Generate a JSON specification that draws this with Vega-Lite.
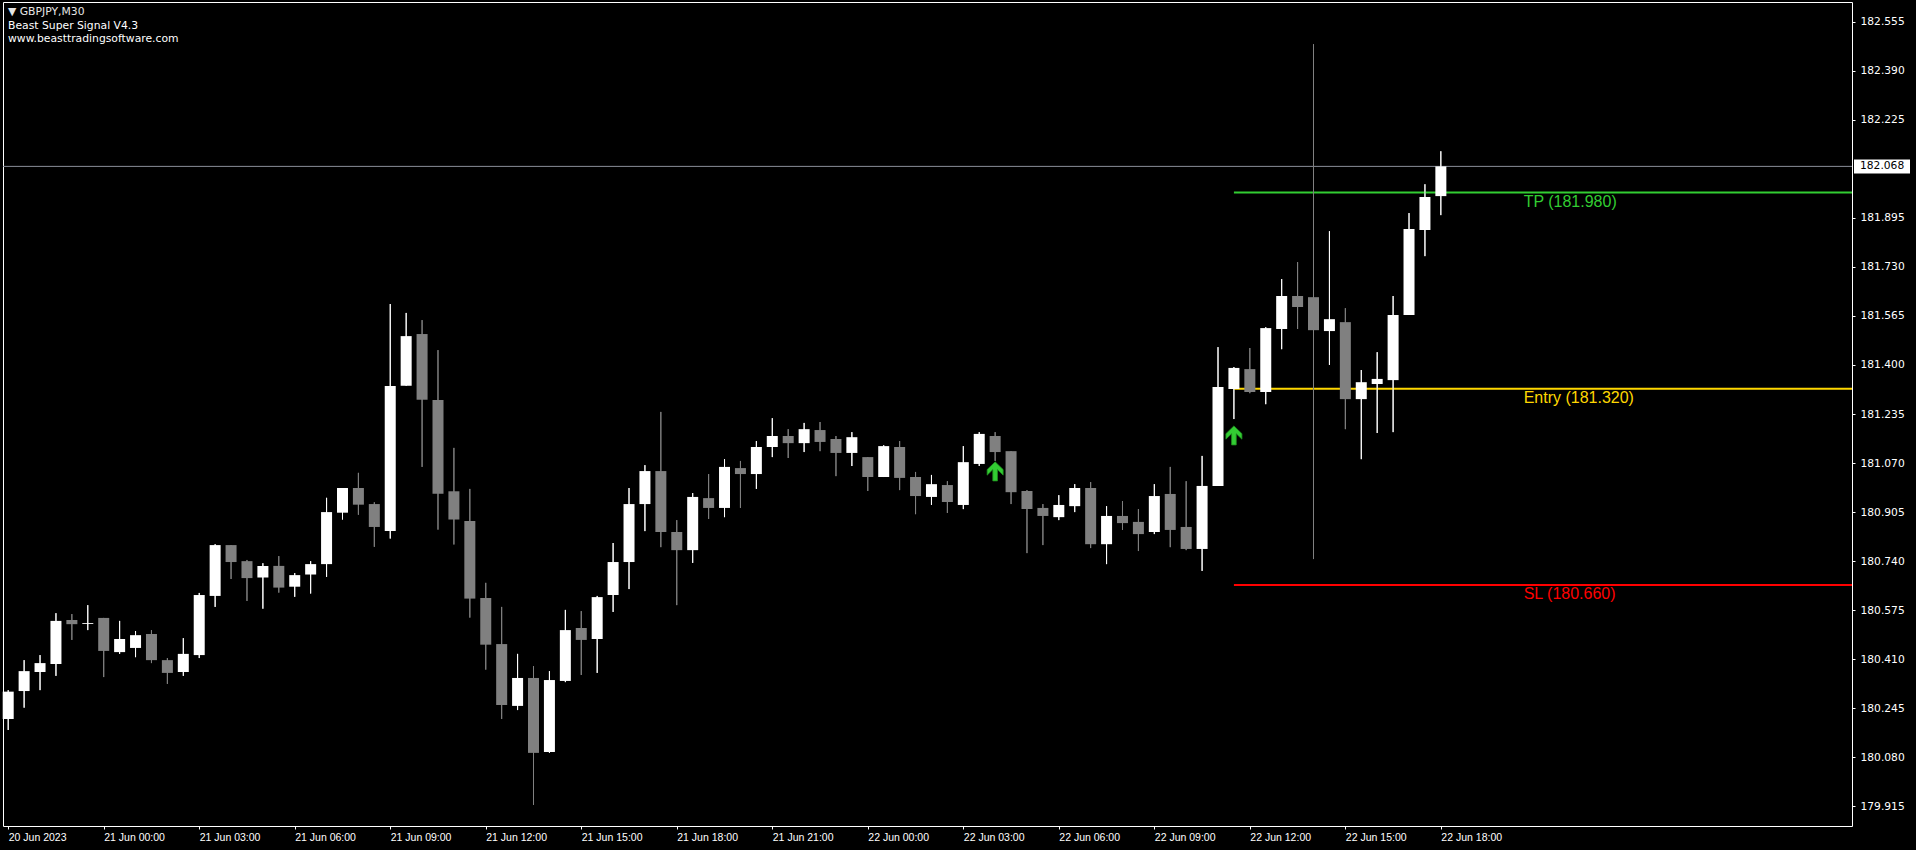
{
  "$schema": "https://vega.github.io/schema/vega-lite/v6.json",
  "width": 1849,
  "height": 824,
  "autosize": {"type": "none"},
  "padding": {"left": 3, "top": 2, "right": 64, "bottom": 24},
  "background": "#000000",
  "config": {
    "view": {"stroke": "#ffffff", "strokeWidth": 1},
    "axis": {"grid": false, "domain": false, "title": null, "tickColor": "#ffffff", "labelColor": "#ffffff"}
  },
  "title": {
    "text": "▼  GBPJPY,M30",
    "subtitle": ["Beast Super Signal V4.3", "www.beasttradingsoftware.com"],
    "anchor": "start",
    "frame": "group",
    "orient": "top",
    "offset": -41.5,
    "dx": 5,
    "font": "DejaVu Sans",
    "fontSize": 10.8,
    "fontWeight": "normal",
    "color": "#e6e6e6",
    "subtitleFont": "DejaVu Sans",
    "subtitleFontSize": 10.8,
    "subtitleColor": "#ffffff",
    "subtitlePadding": 3.5,
    "lineHeight": 12.5,
    "subtitleLineHeight": 12.5
  },
  "datasets": {
    "candles": [
      {"t": "2023-06-20T21:00Z", "o": 180.209, "h": 180.306, "l": 180.172, "c": 180.301},
      {"t": "2023-06-20T21:30Z", "o": 180.303, "h": 180.407, "l": 180.247, "c": 180.370},
      {"t": "2023-06-20T22:00Z", "o": 180.367, "h": 180.424, "l": 180.306, "c": 180.397},
      {"t": "2023-06-20T22:30Z", "o": 180.394, "h": 180.565, "l": 180.354, "c": 180.539},
      {"t": "2023-06-20T23:00Z", "o": 180.542, "h": 180.562, "l": 180.475, "c": 180.528},
      {"t": "2023-06-20T23:30Z", "o": 180.529, "h": 180.592, "l": 180.508, "c": 180.532},
      {"t": "2023-06-21T00:00Z", "o": 180.549, "h": 180.549, "l": 180.350, "c": 180.438},
      {"t": "2023-06-21T00:30Z", "o": 180.434, "h": 180.539, "l": 180.428, "c": 180.478},
      {"t": "2023-06-21T01:00Z", "o": 180.448, "h": 180.505, "l": 180.417, "c": 180.491},
      {"t": "2023-06-21T01:30Z", "o": 180.495, "h": 180.508, "l": 180.397, "c": 180.407},
      {"t": "2023-06-21T02:00Z", "o": 180.407, "h": 180.414, "l": 180.327, "c": 180.364},
      {"t": "2023-06-21T02:30Z", "o": 180.367, "h": 180.481, "l": 180.354, "c": 180.428},
      {"t": "2023-06-21T03:00Z", "o": 180.424, "h": 180.633, "l": 180.414, "c": 180.626},
      {"t": "2023-06-21T03:30Z", "o": 180.623, "h": 180.797, "l": 180.586, "c": 180.794},
      {"t": "2023-06-21T04:00Z", "o": 180.794, "h": 180.794, "l": 180.680, "c": 180.737},
      {"t": "2023-06-21T04:30Z", "o": 180.740, "h": 180.744, "l": 180.606, "c": 180.683},
      {"t": "2023-06-21T05:00Z", "o": 180.685, "h": 180.733, "l": 180.580, "c": 180.724},
      {"t": "2023-06-21T05:30Z", "o": 180.724, "h": 180.757, "l": 180.634, "c": 180.651},
      {"t": "2023-06-21T06:00Z", "o": 180.654, "h": 180.700, "l": 180.620, "c": 180.693},
      {"t": "2023-06-21T06:30Z", "o": 180.695, "h": 180.740, "l": 180.631, "c": 180.730},
      {"t": "2023-06-21T07:00Z", "o": 180.730, "h": 180.953, "l": 180.687, "c": 180.905},
      {"t": "2023-06-21T07:30Z", "o": 180.903, "h": 180.986, "l": 180.880, "c": 180.986},
      {"t": "2023-06-21T08:00Z", "o": 180.986, "h": 181.037, "l": 180.896, "c": 180.930},
      {"t": "2023-06-21T08:30Z", "o": 180.932, "h": 180.938, "l": 180.788, "c": 180.855},
      {"t": "2023-06-21T09:00Z", "o": 180.841, "h": 181.605, "l": 180.816, "c": 181.329},
      {"t": "2023-06-21T09:30Z", "o": 181.330, "h": 181.575, "l": 181.330, "c": 181.497},
      {"t": "2023-06-21T10:00Z", "o": 181.504, "h": 181.551, "l": 181.057, "c": 181.283},
      {"t": "2023-06-21T10:30Z", "o": 181.282, "h": 181.450, "l": 180.846, "c": 180.967},
      {"t": "2023-06-21T11:00Z", "o": 180.975, "h": 181.121, "l": 180.796, "c": 180.880},
      {"t": "2023-06-21T11:30Z", "o": 180.875, "h": 180.983, "l": 180.550, "c": 180.614},
      {"t": "2023-06-21T12:00Z", "o": 180.616, "h": 180.667, "l": 180.375, "c": 180.459},
      {"t": "2023-06-21T12:30Z", "o": 180.461, "h": 180.586, "l": 180.209, "c": 180.256},
      {"t": "2023-06-21T13:00Z", "o": 180.253, "h": 180.428, "l": 180.239, "c": 180.347},
      {"t": "2023-06-21T13:30Z", "o": 180.347, "h": 180.387, "l": 179.920, "c": 180.095},
      {"t": "2023-06-21T14:00Z", "o": 180.098, "h": 180.370, "l": 180.095, "c": 180.340},
      {"t": "2023-06-21T14:30Z", "o": 180.337, "h": 180.576, "l": 180.333, "c": 180.508},
      {"t": "2023-06-21T15:00Z", "o": 180.515, "h": 180.572, "l": 180.357, "c": 180.475},
      {"t": "2023-06-21T15:30Z", "o": 180.478, "h": 180.623, "l": 180.364, "c": 180.619},
      {"t": "2023-06-21T16:00Z", "o": 180.626, "h": 180.801, "l": 180.569, "c": 180.737},
      {"t": "2023-06-21T16:30Z", "o": 180.737, "h": 180.986, "l": 180.646, "c": 180.932},
      {"t": "2023-06-21T17:00Z", "o": 180.932, "h": 181.063, "l": 180.841, "c": 181.043},
      {"t": "2023-06-21T17:30Z", "o": 181.043, "h": 181.242, "l": 180.787, "c": 180.838},
      {"t": "2023-06-21T18:00Z", "o": 180.838, "h": 180.878, "l": 180.592, "c": 180.777},
      {"t": "2023-06-21T18:30Z", "o": 180.777, "h": 180.969, "l": 180.734, "c": 180.956},
      {"t": "2023-06-21T19:00Z", "o": 180.952, "h": 181.033, "l": 180.882, "c": 180.919},
      {"t": "2023-06-21T19:30Z", "o": 180.919, "h": 181.083, "l": 180.888, "c": 181.057},
      {"t": "2023-06-21T20:00Z", "o": 181.053, "h": 181.077, "l": 180.919, "c": 181.033},
      {"t": "2023-06-21T20:30Z", "o": 181.033, "h": 181.144, "l": 180.983, "c": 181.124},
      {"t": "2023-06-21T21:00Z", "o": 181.124, "h": 181.221, "l": 181.090, "c": 181.161},
      {"t": "2023-06-21T21:30Z", "o": 181.161, "h": 181.184, "l": 181.087, "c": 181.137},
      {"t": "2023-06-21T22:00Z", "o": 181.137, "h": 181.205, "l": 181.107, "c": 181.184},
      {"t": "2023-06-21T22:30Z", "o": 181.181, "h": 181.208, "l": 181.110, "c": 181.141},
      {"t": "2023-06-21T23:00Z", "o": 181.151, "h": 181.161, "l": 181.026, "c": 181.104},
      {"t": "2023-06-21T23:30Z", "o": 181.104, "h": 181.174, "l": 181.060, "c": 181.157},
      {"t": "2023-06-22T00:00Z", "o": 181.090, "h": 181.090, "l": 180.976, "c": 181.023},
      {"t": "2023-06-22T00:30Z", "o": 181.023, "h": 181.130, "l": 181.023, "c": 181.127},
      {"t": "2023-06-22T01:00Z", "o": 181.124, "h": 181.144, "l": 180.979, "c": 181.020},
      {"t": "2023-06-22T01:30Z", "o": 181.023, "h": 181.040, "l": 180.898, "c": 180.959},
      {"t": "2023-06-22T02:00Z", "o": 180.956, "h": 181.030, "l": 180.929, "c": 180.999},
      {"t": "2023-06-22T02:30Z", "o": 180.996, "h": 181.009, "l": 180.902, "c": 180.939},
      {"t": "2023-06-22T03:00Z", "o": 180.929, "h": 181.127, "l": 180.915, "c": 181.073},
      {"t": "2023-06-22T03:30Z", "o": 181.067, "h": 181.174, "l": 181.060, "c": 181.168},
      {"t": "2023-06-22T04:00Z", "o": 181.161, "h": 181.174, "l": 181.077, "c": 181.107},
      {"t": "2023-06-22T04:30Z", "o": 181.110, "h": 181.110, "l": 180.932, "c": 180.972},
      {"t": "2023-06-22T05:00Z", "o": 180.976, "h": 180.979, "l": 180.767, "c": 180.915},
      {"t": "2023-06-22T05:30Z", "o": 180.919, "h": 180.932, "l": 180.794, "c": 180.892},
      {"t": "2023-06-22T06:00Z", "o": 180.888, "h": 180.962, "l": 180.878, "c": 180.929},
      {"t": "2023-06-22T06:30Z", "o": 180.925, "h": 180.999, "l": 180.905, "c": 180.986},
      {"t": "2023-06-22T07:00Z", "o": 180.986, "h": 181.006, "l": 180.784, "c": 180.797},
      {"t": "2023-06-22T07:30Z", "o": 180.797, "h": 180.925, "l": 180.730, "c": 180.892},
      {"t": "2023-06-22T08:00Z", "o": 180.892, "h": 180.942, "l": 180.845, "c": 180.868},
      {"t": "2023-06-22T08:30Z", "o": 180.872, "h": 180.915, "l": 180.774, "c": 180.831},
      {"t": "2023-06-22T09:00Z", "o": 180.838, "h": 180.999, "l": 180.831, "c": 180.959},
      {"t": "2023-06-22T09:30Z", "o": 180.966, "h": 181.057, "l": 180.787, "c": 180.845},
      {"t": "2023-06-22T10:00Z", "o": 180.855, "h": 181.009, "l": 180.777, "c": 180.781},
      {"t": "2023-06-22T10:30Z", "o": 180.781, "h": 181.094, "l": 180.707, "c": 180.993},
      {"t": "2023-06-22T11:00Z", "o": 180.993, "h": 181.460, "l": 180.993, "c": 181.326},
      {"t": "2023-06-22T11:30Z", "o": 181.319, "h": 181.393, "l": 181.218, "c": 181.390},
      {"t": "2023-06-22T12:00Z", "o": 181.386, "h": 181.457, "l": 181.305, "c": 181.309},
      {"t": "2023-06-22T12:30Z", "o": 181.309, "h": 181.527, "l": 181.268, "c": 181.524},
      {"t": "2023-06-22T13:00Z", "o": 181.521, "h": 181.689, "l": 181.453, "c": 181.632},
      {"t": "2023-06-22T13:30Z", "o": 181.632, "h": 181.746, "l": 181.521, "c": 181.595},
      {"t": "2023-06-22T14:00Z", "o": 181.628, "h": 182.479, "l": 180.747, "c": 181.517},
      {"t": "2023-06-22T14:30Z", "o": 181.514, "h": 181.850, "l": 181.400, "c": 181.554},
      {"t": "2023-06-22T15:00Z", "o": 181.544, "h": 181.591, "l": 181.184, "c": 181.285},
      {"t": "2023-06-22T15:30Z", "o": 181.285, "h": 181.383, "l": 181.083, "c": 181.342},
      {"t": "2023-06-22T16:00Z", "o": 181.336, "h": 181.443, "l": 181.171, "c": 181.353},
      {"t": "2023-06-22T16:30Z", "o": 181.349, "h": 181.632, "l": 181.174, "c": 181.568},
      {"t": "2023-06-22T17:00Z", "o": 181.568, "h": 181.911, "l": 181.568, "c": 181.857},
      {"t": "2023-06-22T17:30Z", "o": 181.854, "h": 182.008, "l": 181.766, "c": 181.965},
      {"t": "2023-06-22T18:00Z", "o": 181.968, "h": 182.119, "l": 181.904, "c": 182.068}
    ],
    "levels": [
      {"level": "TP", "price": 181.98, "start": "2023-06-22T11:30Z", "end": "2023-06-23T12:00Z", "lt": "2023-06-22T20:36Z", "label": "TP (181.980)"},
      {"level": "Entry", "price": 181.32, "start": "2023-06-22T11:30Z", "end": "2023-06-23T12:00Z", "lt": "2023-06-22T20:36Z", "label": "Entry (181.320)"},
      {"level": "SL", "price": 180.66, "start": "2023-06-22T11:30Z", "end": "2023-06-23T12:00Z", "lt": "2023-06-22T20:36Z", "label": "SL (180.660)"}
    ],
    "signals": [
      {"t": "2023-06-22T04:00Z", "price": 181.042},
      {"t": "2023-06-22T11:30Z", "price": 181.163}
    ],
    "last": [
      {"t": "2023-06-22T18:00Z", "price": 182.068, "label": "182.068"}
    ]
  },
  "layer": [
    {
      "data": {"name": "candles"},
      "mark": {"type": "rule", "strokeWidth": 1},
      "encoding": {
        "x": {"field": "t", "type": "temporal",
          "scale": {"type": "utc", "domain": [1687294777507, 1687502725023]},
          "axis": {
            "values": [1687294800000, 1687305600000, 1687316400000, 1687327200000, 1687338000000, 1687348800000, 1687359600000, 1687370400000, 1687381200000, 1687392000000, 1687402800000, 1687413600000, 1687424400000, 1687435200000, 1687446000000, 1687456800000],
            "labelExpr": "datum.index == 0 ? '20 Jun 2023' : utcFormat(datum.value, '%d %b %H:%M')",
            "labelFont": "Liberation Sans", "labelFontSize": 10.5, "labelAlign": "left", "labelBaseline": "top",
            "labelColor": "#ffffff", "tickColor": "#ffffff", "domain": false, "grid": false, "title": null,
            "labelOverlap": false, "labelFlush": false, "labelBound": false,
            "tickSize": 3, "labelPadding": 3
          }},
        "y": {"field": "l", "type": "quantitative",
          "scale": {"domain": [179.849, 182.621], "zero": false, "nice": false},
          "axis": {
            "orient": "right",
            "values": [179.915, 180.08, 180.245, 180.41, 180.575, 180.74, 180.905, 181.07, 181.235, 181.4, 181.565, 181.73, 181.895, 182.225, 182.39, 182.555],
            "format": ".3f",
            "labelFont": "DejaVu Sans", "labelFontSize": 10.7, "labelAlign": "left", "labelBaseline": "middle",
            "labelColor": "#ffffff", "tickColor": "#ffffff", "domain": false, "grid": false, "title": null,
            "labelOverlap": false, "labelFlush": false, "labelBound": false,
            "tickSize": 3, "labelPadding": 5
          }},
        "y2": {"field": "h"},
        "color": {"condition": {"test": "datum.c >= datum.o", "value": "#ffffff"}, "value": "#808080"}
      }
    },
    {
      "data": {"name": "last"},
      "mark": {"type": "rule", "color": "#8a8f99", "strokeWidth": 1},
      "encoding": {
        "y": {"field": "price", "type": "quantitative"}
      }
    },
    {
      "data": {"name": "levels"},
      "mark": {"type": "rule", "strokeWidth": 2, "clip": true},
      "encoding": {
        "x": {"field": "start", "type": "temporal"},
        "x2": {"field": "end"},
        "y": {"field": "price", "type": "quantitative"},
        "color": {"field": "level", "type": "nominal", "legend": null,
          "scale": {"domain": ["TP", "Entry", "SL"], "range": ["#32cd32", "#ffd700", "#ff0000"]}}
      }
    },
    {
      "data": {"name": "candles"},
      "mark": {"type": "rule", "strokeWidth": 1},
      "encoding": {
        "x": {"field": "t", "type": "temporal"},
        "y": {"field": "l", "type": "quantitative"},
        "y2": {"field": "h"},
        "color": {"condition": {"test": "datum.c >= datum.o", "value": "#ffffff"}, "value": "#808080"}
      }
    },
    {
      "data": {"name": "candles"},
      "mark": {"type": "bar", "width": 11},
      "encoding": {
        "x": {"field": "t", "type": "temporal"},
        "y": {"field": "o", "type": "quantitative"},
        "y2": {"field": "c"},
        "color": {"condition": {"test": "datum.c >= datum.o", "value": "#ffffff"}, "value": "#808080"}
      }
    },
    {
      "data": {"name": "signals"},
      "mark": {"type": "point", "filled": true, "size": 256, "opacity": 1,
        "shape": "M0,-1.19 L1,-0.22 L1,0.47 L0.29,-0.22 L0.29,1.19 L-0.29,1.19 L-0.29,-0.22 L-1,0.47 L-1,-0.22 Z",
        "fill": "#33cc33", "stroke": "#1f8f1f", "strokeWidth": 0.8},
      "encoding": {
        "x": {"field": "t", "type": "temporal"},
        "y": {"field": "price", "type": "quantitative"}
      }
    },
    {
      "data": {"name": "levels"},
      "mark": {"type": "text", "align": "left", "baseline": "top", "dy": 1, "font": "Liberation Sans", "fontSize": 16},
      "encoding": {
        "x": {"field": "lt", "type": "temporal"},
        "y": {"field": "price", "type": "quantitative"},
        "text": {"field": "label"},
        "color": {"field": "level", "type": "nominal", "legend": null,
          "scale": {"domain": ["TP", "Entry", "SL"], "range": ["#32cd32", "#ffd700", "#ff0000"]}}
      }
    },
    {
      "data": {"name": "last"},
      "mark": {"type": "rect", "fill": "#ffffff", "clip": false, "xOffset": 2, "x2Offset": 58, "yOffset": -7, "y2Offset": 7},
      "encoding": {
        "x": {"value": "width"},
        "x2": {"value": "width"},
        "y": {"field": "price", "type": "quantitative"},
        "y2": {"field": "price"}
      }
    },
    {
      "data": {"name": "last"},
      "mark": {"type": "text", "color": "#000000", "align": "left", "baseline": "middle", "dx": 8, "font": "DejaVu Sans", "fontSize": 10.7, "clip": false},
      "encoding": {
        "x": {"value": "width"},
        "y": {"field": "price", "type": "quantitative"},
        "text": {"field": "label"}
      }
    }
  ]
}
